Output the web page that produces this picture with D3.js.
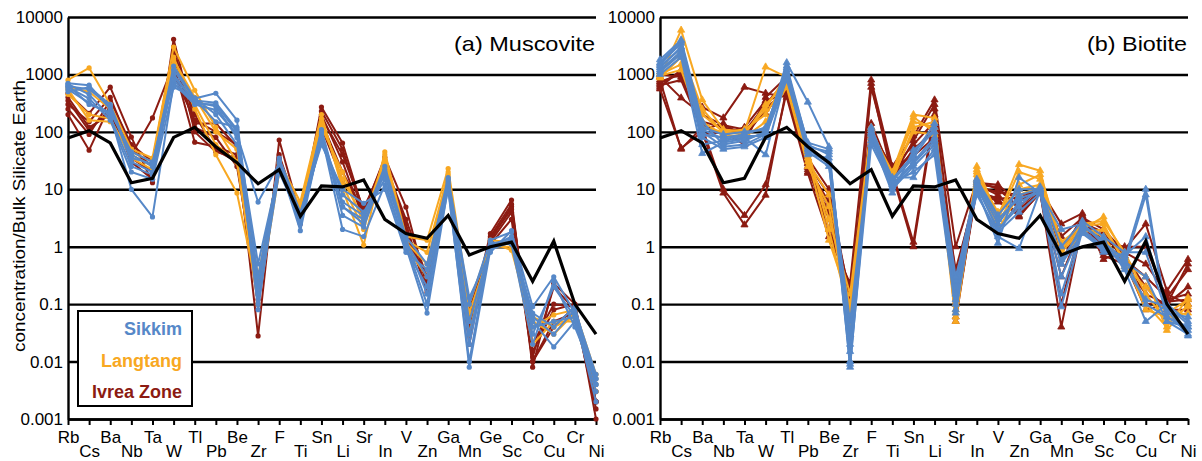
<!DOCTYPE html>
<html>
<head>
<meta charset="utf-8">
<script src="https://cdn.jsdelivr.net/npm/d3@7"></script>
<style>
body { margin: 0; background: #fff; }
svg text { font-family: "Liberation Sans", Arial, sans-serif; }
</style>
</head>
<body>
<div id="chart"></div>
<script>
// element order on the x axis
var categories = ["Rb","Cs","Ba","Nb","Ta","W","Tl","Pb","Be","Zr","F","Ti","Sn","Li","Sr","In","V","Zn","Ga","Mn","Ge","Sc","Co","Cu","Cr","Ni"];
var yTicks = [0.001, 0.01, 0.1, 1, 10, 100, 1000, 10000];

// black reference line (same in both panels)
var referenceLine = [78, 105, 64, 13, 15.5, 80, 120, 55, 29, 12.5, 22, 3.4, 11.5, 11, 14.5, 3, 1.7, 1.4, 3.5, 0.72, 1.0, 1.2, 0.25, 1.25, 0.1, 0.03];

// (a) Muscovite
var muscSikkim = [
  [700, 650, 250, 40, 25, 1400, 380, 470, 160, 0.2, 32, 3.5, 100, 4.9, 3, 25, 1.5, 0.5, 14, 0.1, 1.3, 1.8, 0.09, 0.3, 0.07, 0.005],
  [620, 550, 280, 30, 20, 900, 350, 320, 110, 0.3, 25, 2.5, 80, 8, 4, 18, 1.2, 0.3, 12, 0.05, 1.0, 1.5, 0.03, 0.2, 0.06, 0.004],
  [550, 320, 200, 10, 3.3, 700, 300, 240, 90, 6, 28, 1.9, 90, 2, 1.5, 12, 1.0, 0.07, 11, 0.008, 0.9, 1.2, 0.05, 0.018, 0.05, 0.003],
  [680, 450, 180, 25, 18, 1000, 330, 280, 80, 0.1, 20, 3, 70, 6, 3.5, 15, 0.9, 0.2, 13, 0.02, 1.1, 1.4, 0.06, 0.03, 0.08, 0.006],
  [600, 380, 160, 20, 15, 600, 390, 200, 60, 0.15, 35, 4, 60, 10, 5.7, 10, 0.8, 0.4, 16, 0.13, 0.8, 1.9, 0.04, 0.05, 0.06, 0.002],
  [500, 600, 300, 35, 28, 1200, 370, 150, 120, 0.08, 30, 3.3, 110, 5, 2.5, 20, 1.3, 0.15, 10, 0.01, 1.2, 1.1, 0.02, 0.25, 0.04, 0.005],
  [650, 300, 220, 45, 30, 800, 310, 300, 100, 0.5, 22, 2.8, 95, 3.5, 2.2, 22, 1.1, 0.1, 15, 0.03, 1.0, 1.3, 0.07, 0.04, 0.09, 0.004]
];
var muscLangtang = [
  [800, 1300, 300, 50, 35, 3000, 530, 120, 30, 0.2, 30, 6, 200, 10, 1.07, 45, 1.5, 1.3, 23, 0.1, 1.2, 0.87, 0.04, 0.065, 0.08, 0.006],
  [550, 160, 150, 45, 30, 2000, 250, 40, 8.6, 0.15, 25, 5, 150, 15, 3, 35, 1.2, 0.5, 20, 0.05, 1.0, 1.0, 0.05, 0.03, 0.07, 0.004],
  [450, 200, 170, 35, 22, 1500, 300, 60, 30, 0.1, 20, 4.5, 120, 20, 2.5, 30, 1.0, 0.3, 16, 0.03, 1.3, 1.2, 0.02, 0.05, 0.05, 0.003],
  [600, 500, 250, 40, 25, 1800, 400, 100, 50, 0.3, 28, 4, 170, 12, 2, 40, 1.3, 0.8, 18, 0.07, 0.9, 1.3, 0.06, 0.04, 0.06, 0.005]
];
var muscIvrea = [
  [470, 210, 600, 81, 13, 4100, 140, 140, 55, 0.028, 72, 3.5, 270, 64, 4, 36, 4.9, 0.2, 14, 0.05, 1.7, 6.5, 0.008, 0.23, 0.1, 0.001],
  [200, 48, 300, 40, 175, 1500, 66, 55, 40, 0.2, 30, 3, 200, 30, 3, 25, 2.5, 0.16, 12, 0.03, 1.3, 5, 0.01, 0.04, 0.09, 0.002],
  [350, 105, 250, 30, 15, 2500, 200, 48, 30, 0.1, 25, 2.5, 150, 20, 4, 30, 1.5, 0.27, 11, 0.08, 1.2, 4, 0.015, 0.08, 0.1, 0.002],
  [300, 150, 400, 50, 25, 2000, 120, 80, 25, 0.15, 35, 3.8, 230, 50, 3.5, 28, 3, 0.3, 13, 0.02, 1.5, 5.5, 0.012, 0.2, 0.08, 0.003],
  [400, 120, 200, 35, 20, 1000, 160, 100, 60, 0.25, 20, 4, 120, 14, 5, 20, 2, 0.25, 15, 0.06, 1.1, 3, 0.01, 0.05, 0.07, 0.0015],
  [250, 90, 350, 60, 30, 3000, 100, 45, 35, 0.12, 40, 3.2, 180, 40, 4.5, 32, 1.8, 0.18, 12, 0.04, 1.4, 4.5, 0.02, 0.1, 0.09, 0.002]
];

// (b) Biotite
var bioSikkim = [
  [1800, 4000, 150, 60, 70, 100, 1600, 330, 55, 0.01, 120, 15, 40, 140, 0.1, 13, 2.5, 8, 10, 0.5, 2.5, 1.2, 0.6, 10, 0.06, 0.04],
  [1500, 3500, 100, 55, 60, 90, 1400, 60, 40, 0.008, 100, 12, 30, 80, 0.07, 12, 1.9, 6, 9, 0.3, 2.0, 1.0, 0.5, 8, 0.05, 0.03],
  [1300, 3000, 80, 50, 55, 80, 1200, 50, 30, 0.02, 90, 10, 25, 60, 0.15, 10, 1.15, 16, 8.6, 0.09, 1.9, 0.9, 0.7, 1.5, 0.08, 0.028],
  [1200, 2500, 60, 70, 80, 40, 1000, 45, 25, 0.05, 80, 8.6, 48, 100, 0.2, 9, 1.5, 0.93, 9.5, 0.15, 2.2, 1.3, 0.4, 0.05, 0.1, 0.05],
  [1600, 3800, 120, 90, 100, 110, 1300, 55, 45, 0.01, 110, 14, 35, 120, 0.12, 15, 3.5, 10, 10, 1.0, 2.8, 1.5, 0.8, 0.8, 0.07, 0.06],
  [1000, 2000, 42, 65, 75, 95, 900, 40, 35, 0.03, 70, 13, 20, 40, 0.08, 11, 2, 5, 11, 0.5, 1.7, 0.9, 0.55, 0.3, 0.05, 0.04],
  [1400, 2800, 90, 80, 90, 120, 1100, 65, 50, 0.015, 95, 16, 16, 50, 0.25, 14, 3, 7, 9, 2, 2.5, 1.1, 0.45, 0.12, 0.09, 0.045],
  [1100, 2300, 110, 75, 85, 85, 800, 50, 28, 0.009, 60, 11, 28, 70, 0.3, 8, 1.8, 4, 8.6, 0.6, 2.0, 0.8, 0.65, 0.1, 0.06, 0.035]
];
var bioLangtang = [
  [900, 5900, 360, 110, 100, 1350, 900, 50, 2, 0.06, 100, 20, 200, 175, 0.06, 25, 3.3, 27, 21, 0.8, 2, 3.3, 0.7, 0.1, 0.04, 0.13],
  [870, 2000, 200, 100, 90, 300, 700, 35, 1.3, 0.1, 80, 18, 150, 120, 0.08, 20, 2.5, 12, 18, 1.2, 2.3, 2.5, 0.5, 0.3, 0.035, 0.1],
  [1000, 1500, 150, 90, 80, 150, 600, 25, 5, 0.04, 90, 16, 100, 90, 0.05, 15, 2, 8, 11, 0.6, 1.8, 2, 0.6, 0.08, 0.06, 0.07],
  [950, 1200, 120, 100, 110, 200, 800, 40, 3, 0.15, 120, 14, 120, 150, 0.1, 18, 4, 10, 12, 1, 2.5, 2.8, 0.8, 0.15, 0.05, 0.09],
  [1100, 2500, 250, 95, 95, 250, 1000, 30, 8, 0.08, 110, 17, 180, 100, 0.07, 22, 3, 20, 15, 0.9, 2.2, 1.5, 0.45, 0.2, 0.07, 0.12]
];
var bioIvrea = [
  [600, 1200, 270, 175, 600, 470, 400, 19, 1.5, 0.23, 800, 25, 85, 360, 1.0, 14, 10, 5, 10, 2.5, 3.8, 0.6, 0.9, 2.5, 0.17, 0.6],
  [560, 52, 100, 8.6, 2.4, 7.9, 600, 25, 2, 0.2, 140, 18, 1.0, 200, 0.05, 12, 8, 3.3, 9, 0.04, 2.5, 0.7, 0.5, 0.15, 0.1, 0.5],
  [800, 50, 120, 10, 3.5, 12, 500, 30, 3, 0.1, 110, 20, 1.2, 250, 0.06, 10, 6, 4, 8.6, 0.1, 3, 0.8, 0.6, 0.3, 0.13, 0.4],
  [900, 390, 200, 130, 110, 210, 700, 22, 5, 0.05, 600, 22, 60, 150, 0.1, 13, 12, 6, 11, 0.5, 3.5, 1.2, 1, 1.0, 0.12, 0.15],
  [1000, 900, 150, 120, 100, 300, 800, 28, 8, 0.03, 120, 15, 50, 100, 0.2, 11, 9, 8, 9.5, 1.5, 3.2, 2, 0.8, 0.5, 0.15, 0.1],
  [700, 1100, 90, 100, 60, 400, 900, 35, 10, 0.12, 100, 24, 38, 80, 0.4, 9, 7, 7, 10, 1.0, 2.8, 1.5, 0.7, 0.2, 0.08, 0.08],
  [650, 800, 110, 140, 80, 250, 550, 20, 4, 0.08, 700, 16, 70, 300, 0.3, 12, 11, 4.5, 9, 0.8, 3.3, 0.9, 0.75, 0.1, 0.11, 0.12],
  [750, 1000, 130, 90, 120, 350, 450, 24, 6, 0.15, 90, 19, 45, 120, 0.15, 10, 6.5, 3.5, 8.6, 0.3, 2.6, 1.8, 0.55, 0.08, 0.1, 0.2]
];

var legendNames = ["Sikkim", "Langtang", "Ivrea Zone"];
var colors = {sikkim: "#5688c8", langtang: "#f8a822", ivrea: "#8c1b12"};

var W = 1202, H = 461;
var plotTop = 17, plotBottom = 419;  // (window.top is read-only, so not "top")

var svg = d3.select("#chart").append("svg")
  .attr("width", W)
  .attr("height", H)
  .style("background", "#fff");

var y = d3.scaleLog().domain([0.001, 10000]).range([plotBottom, plotTop]);

function drawPanel(cfg){
  var x = d3.scalePoint().domain(categories).range([cfg.left, cfg.right]);
  var g = svg.append("g");

  // gridlines + left axis
  var yAxis = g.append("g")
    .attr("transform", "translate(" + cfg.left + ",0)")
    .call(d3.axisLeft(y).tickValues(yTicks).tickFormat(String)
      .tickSizeInner(-(cfg.right - cfg.left)).tickSizeOuter(0).tickPadding(5));
  yAxis.selectAll("line").attr("stroke", "#000").attr("stroke-width", 2.4);
  yAxis.select(".domain").attr("stroke", "#000").attr("stroke-width", 2.4);
  yAxis.selectAll("text")
    .attr("font-size", "17px")
    .attr("fill", "#000")
    .attr("font-family", "Liberation Sans, Arial, sans-serif");

  // bottom axis, labels staggered
  var xAxis = g.append("g")
    .attr("transform", "translate(0," + plotBottom + ")")
    .call(d3.axisBottom(x).tickSizeInner(6).tickSizeOuter(0));
  xAxis.select(".domain").attr("stroke", "#000").attr("stroke-width", 2.4);
  xAxis.selectAll("line").attr("stroke", "#000").attr("stroke-width", 2);
  xAxis.selectAll("text")
    .attr("font-size", "17px")
    .attr("fill", "#000")
    .attr("font-family", "Liberation Sans, Arial, sans-serif")
    .attr("dy", 0)
    .attr("y", function(d, i){ return i % 2 ? 38 : 24; });

  var line = d3.line()
    .x(function(d, i){ return x(categories[i]); })
    .y(function(d){ return y(d); });

  var groups = [
    {rows: cfg.ivrea, color: colors.ivrea},
    {rows: cfg.langtang, color: colors.langtang},
    {rows: cfg.sikkim, color: colors.sikkim}
  ];

  var sym = d3.symbol().type(d3.symbolTriangle).size(22);

  groups.forEach(function(grp){
    grp.rows.forEach(function(row){
      g.append("path")
        .datum(row)
        .attr("d", line)
        .attr("fill", "none")
        .attr("stroke", grp.color)
        .attr("stroke-width", 2)
        .attr("stroke-linejoin", "round");

      var pts = g.append("g").selectAll("path")
        .data(row).enter();
      if (cfg.marker == "circle") {
        pts.append("circle")
          .attr("cx", function(d, i){ return x(categories[i]); })
          .attr("cy", function(d){ return y(d); })
          .attr("r", 2.6)
          .attr("fill", grp.color);
      } else {
        pts.append("path")
          .attr("d", sym)
          .attr("transform", function(d, i){ return "translate(" + x(categories[i]) + "," + y(d) + ")"; })
          .attr("fill", grp.color)
          .attr("stroke", grp.color)
          .attr("stroke-width", 0.8);
      }
    });
  });

  // reference line on top
  g.append("path")
    .datum(referenceLine)
    .attr("d", line)
    .attr("fill", "none")
    .attr("stroke", "#000")
    .attr("stroke-width", 3.2)
    .attr("stroke-linejoin", "miter");

  // panel title
  g.append("text")
    .attr("x", cfg.right - 1)
    .attr("y", 51)
    .attr("text-anchor", "end")
    .attr("font-size", "21px")
    .attr("fill", "#000")
    .attr("textLength", cfg.titleWidth)
    .attr("lengthAdjust", "spacingAndGlyphs")
    .text(cfg.title);

  return g;
}

drawPanel({left: 68, right: 596, title: "(a) Muscovite", titleWidth: 141, marker: "circle",
  sikkim: muscSikkim, langtang: muscLangtang, ivrea: muscIvrea});
drawPanel({left: 660, right: 1188, title: "(b) Biotite", titleWidth: 100, marker: "triangle",
  sikkim: bioSikkim, langtang: bioLangtang, ivrea: bioIvrea});

// y axis title
svg.append("text")
  .attr("transform", "translate(25,216) rotate(-90)")
  .attr("text-anchor", "middle")
  .attr("font-size", "17px")
  .attr("fill", "#000")
  .attr("textLength", 272)
  .attr("lengthAdjust", "spacingAndGlyphs")
  .text("concentration/Bulk Silicate Earth");

// legend box
var legend = svg.append("g");
legend.append("rect")
  .attr("x", 78).attr("y", 311)
  .attr("width", 114).attr("height", 95)
  .attr("fill", "#fff")
  .attr("stroke", "#000")
  .attr("stroke-width", 2);
var legendColors = [colors.sikkim, colors.langtang, colors.ivrea];
legend.selectAll("text.leg")
  .data(legendNames).enter()
  .append("text")
  .attr("class", "leg")
  .attr("x", 182)
  .attr("y", function(d, i){ return 335 + i * 31.5; })
  .attr("text-anchor", "end")
  .attr("font-size", "18px")
  .attr("font-weight", "bold")
  .attr("fill", function(d, i){ return legendColors[i]; })
  .text(function(d){ return d; });
</script>
</body>
</html>
